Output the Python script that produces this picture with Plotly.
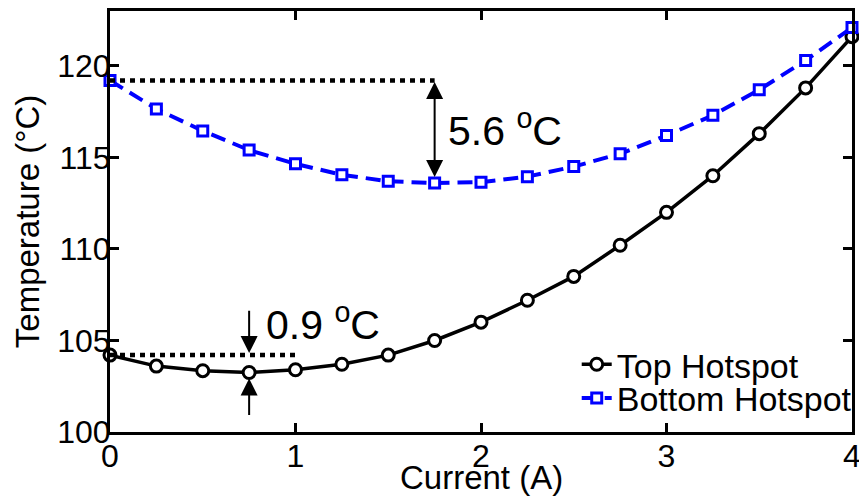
import plotly.graph_objects as go

# ---- data ----
current = [0, 0.25, 0.5, 0.75, 1.0, 1.25, 1.5, 1.75, 2.0, 2.25, 2.5, 2.75, 3.0, 3.25, 3.5, 3.75, 4.0]
top_hotspot = [104.2, 103.6, 103.35, 103.25, 103.4, 103.7, 104.2, 105.0, 106.0, 107.2,
               108.5, 110.2, 112.0, 114.0, 116.3, 118.8, 121.6]
bottom_hotspot = [119.2, 117.65, 116.45, 115.4, 114.65, 114.05, 113.7, 113.6, 113.65, 113.95,
                  114.5, 115.2, 116.2, 117.3, 118.7, 120.3, 122.1]
x_ticks = [0, 1, 2, 3, 4]
y_ticks = [100, 105, 110, 115, 120]

# annotation texts and anchor values
label_top = "0.9 <sup>o</sup>C"
label_bottom = "5.6 <sup>o</sup>C"
label_top_pos = [0.83, 106.0]
label_bottom_pos = [1.81, 116.6]
arrow_top_tail_high = 106.7
arrow_top_tail_low = 100.85

FONT = "Liberation Sans, Arial, sans-serif"

fig = go.Figure()

fig.add_trace(go.Scatter(
    x=current, y=top_hotspot, name="Top Hotspot", mode="lines+markers",
    line=dict(color="black", width=3.5),
    marker=dict(symbol="circle", size=12, color="white", line=dict(color="black", width=3)),
    cliponaxis=False, legend="legend",
))
fig.add_trace(go.Scatter(
    x=current, y=bottom_hotspot, name="Bottom Hotspot", mode="lines+markers",
    line=dict(color="#0000ff", width=4, dash="15px,8px"),
    marker=dict(symbol="square", size=10, color="white", line=dict(color="#0000ff", width=3)),
    cliponaxis=False, legend="legend2",
))

# dotted reference lines
i_min_b = bottom_hotspot.index(min(bottom_hotspot))
i_min_t = top_hotspot.index(min(top_hotspot))
fig.add_shape(type="line", x0=current[0], x1=current[i_min_b], y0=bottom_hotspot[0], y1=bottom_hotspot[0],
              xref="x", yref="y", line=dict(color="black", width=4.5, dash="5px,5px"))
fig.add_shape(type="line", x0=current[0], x1=current[4], y0=top_hotspot[0], y1=top_hotspot[0],
              xref="x", yref="y", line=dict(color="black", width=4.5, dash="5px,5px"))

# arrows
arrow_common = dict(xref="x", yref="y", axref="x", ayref="y", text="", showarrow=True,
                    arrowcolor="black", arrowwidth=2, arrowsize=1.7, arrowhead=2)
fig.add_annotation(x=current[i_min_b], y=bottom_hotspot[i_min_b], ax=current[i_min_b], ay=bottom_hotspot[0],
                   arrowside="end+start", startarrowhead=2, startarrowsize=1.7, standoff=6, startstandoff=0,
                   **arrow_common)
fig.add_annotation(x=current[i_min_t], y=top_hotspot[0], ax=current[i_min_t], ay=arrow_top_tail_high,
                   standoff=2, **arrow_common)
fig.add_annotation(x=current[i_min_t], y=top_hotspot[i_min_t], ax=current[i_min_t], ay=arrow_top_tail_low,
                   standoff=6, **arrow_common)

# labels
fig.add_annotation(x=label_bottom_pos[0], y=label_bottom_pos[1], text=label_bottom, showarrow=False,
                   xanchor="left", yanchor="middle", font=dict(size=41, color="black", family=FONT))
fig.add_annotation(x=label_top_pos[0], y=label_top_pos[1], text=label_top, showarrow=False,
                   xanchor="left", yanchor="middle", font=dict(size=41, color="black", family=FONT))

# x-axis title
fig.add_annotation(x=0.5, y=0, xref="paper", yref="paper", yshift=-45, text="Current (A)",
                   showarrow=False, xanchor="center", yanchor="middle",
                   font=dict(size=33, color="black", family=FONT))

axis_common = dict(showline=True, linecolor="black", linewidth=3, mirror="allticks",
                   ticks="inside", ticklen=9, tickwidth=3, tickcolor="black",
                   showgrid=False, zeroline=False, automargin=False,
                   ticklabeloverflow="allow",
                   tickfont=dict(size=32, color="black", family=FONT))

fig.update_xaxes(range=[0, 4], tickvals=x_ticks, ticktext=[str(v) for v in x_ticks],
                 ticklabelstandoff=-6, **axis_common)
fig.update_yaxes(range=[100, 123], tickvals=y_ticks, ticktext=[str(v) for v in y_ticks],
                 ticklabelstandoff=-10,
                 title=dict(text="Temperature (°C)", font=dict(size=33, color="black", family=FONT), standoff=8),
                 **axis_common)

legend_common = dict(xanchor="left", yanchor="middle", bgcolor="rgba(0,0,0,0)", borderwidth=0,
                     font=dict(size=34, color="black", family=FONT), itemwidth=30)
fig.update_layout(
    width=859, height=504,
    margin=dict(l=110, r=7, t=11, b=72, autoexpand=False),
    plot_bgcolor="white", paper_bgcolor="white",
    showlegend=True,
    legend=dict(x=0.629, y=0.16, **legend_common),
    legend2=dict(x=0.629, y=0.08, **legend_common),
)

fig.write_html("out.html", config={"displayModeBar": False, "responsive": False},
               post_script="document.body.style.margin='0';document.body.style.overflow='hidden';")
